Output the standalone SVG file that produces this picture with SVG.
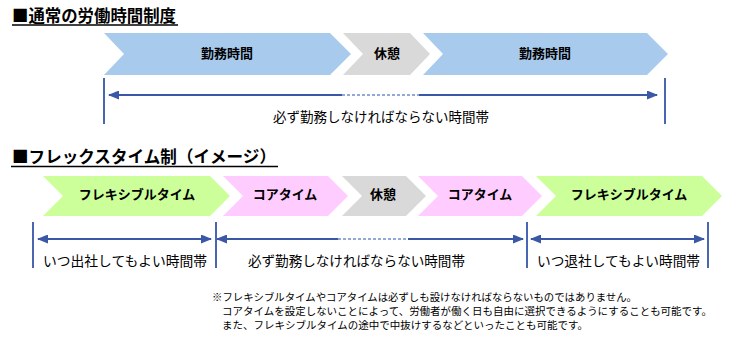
<svg xmlns="http://www.w3.org/2000/svg" width="740" height="345" viewBox="0 0 740 345">
<style>
text{font-family:"Noto Sans CJK JP","Noto Sans",sans-serif;fill:#000}
.title{font-size:16.5px;font-weight:bold}
.lab{font-size:13px;font-weight:bold;text-anchor:middle}
.desc{font-size:13.5px}
.note{font-size:10.5px}
.blue{fill:#a8cbed}
.gray{fill:#d9d9d9}
.green{fill:#ccff99}
.pink{fill:#ffccff}
.ul{stroke:#000;stroke-width:1.3}
.vl{stroke:#4a66b0;stroke-width:2}
.ar{stroke:#3a58a6;stroke-width:2;fill:none}
.da{stroke:#93a8d8;stroke-width:2;stroke-dasharray:3 2;fill:none}
</style>
<defs>
<marker id="ah" markerUnits="userSpaceOnUse" markerWidth="11" markerHeight="9" refX="10" refY="4.5" orient="auto-start-reverse" viewBox="0 0 11 9">
<path d="M0,0 L11,4.5 L0,9 z" fill="#3a58a6"/>
</marker>
</defs>
<rect width="740" height="345" fill="#fff"/>

<g id="title1">
<text class="title" x="12" y="22" textLength="164" lengthAdjust="spacingAndGlyphs">■通常の労働時間制度</text>
<line class="ul" x1="12" y1="25" x2="178" y2="25"/>
</g>

<g id="n-work1">
<polygon class="blue" points="104,33 330,33 351,54 330,75 104,75 124,54"/>
<text class="lab" x="227" y="58">勤務時間</text>
</g>
<g id="n-break1">
<polygon class="gray" points="343,33 410,33 430,54 410,75 343,75 363,54"/>
<text class="lab" x="387" y="58">休憩</text>
</g>
<g id="n-work2">
<polygon class="blue" points="423,33 647,33 668,54 647,75 423,75 443,54"/>
<text class="lab" x="545" y="58">勤務時間</text>
</g>

<g id="title2">
<text class="title" x="12" y="163" textLength="264" lengthAdjust="spacingAndGlyphs">■フレックスタイム制（イメージ）</text>
<line class="ul" x1="11" y1="166.5" x2="278" y2="166.5"/>
</g>

<g id="n-flex1">
<polygon class="green" points="43,176 210,176 230,196 210,216 43,216 63,196"/>
<text class="lab" x="137" y="199">フレキシブルタイム</text>
</g>
<g id="n-core1">
<polygon class="pink" points="223,176 328,176 348,196 328,216 223,216 243,196"/>
<text class="lab" x="285" y="199">コアタイム</text>
</g>
<g id="n-break2">
<polygon class="gray" points="342,176 406,176 426,196 406,216 342,216 362,196"/>
<text class="lab" x="383" y="199">休憩</text>
</g>
<g id="n-core2">
<polygon class="pink" points="418,176 522,176 542,196 522,216 418,216 438,196"/>
<text class="lab" x="480" y="199">コアタイム</text>
</g>
<g id="n-flex2">
<polygon class="green" points="536,176 702,176 722,196 702,216 536,216 556,196"/>
<text class="lab" x="629" y="199">フレキシブルタイム</text>
</g>

<g id="connectors">
<line class="vl" x1="104" y1="78" x2="104" y2="124"/>
<line class="vl" x1="665" y1="78" x2="665" y2="124"/>
<line class="ar" x1="342" y1="95" x2="109" y2="95" marker-end="url(#ah)"/>
<line class="da" x1="342" y1="95" x2="419" y2="95"/>
<line class="ar" x1="419" y1="95" x2="657" y2="95" marker-end="url(#ah)"/>

<line class="vl" x1="33" y1="222" x2="33" y2="268"/>
<line class="vl" x1="216" y1="222" x2="216" y2="268"/>
<line class="vl" x1="527" y1="222" x2="527" y2="268"/>
<line class="vl" x1="708" y1="222" x2="708" y2="268"/>
<line class="ar" x1="38" y1="239" x2="211" y2="239" marker-start="url(#ah)" marker-end="url(#ah)"/>
<line class="ar" x1="338" y1="239" x2="217" y2="239" marker-end="url(#ah)"/>
<line class="da" x1="338" y1="239" x2="408" y2="239"/>
<line class="ar" x1="408" y1="239" x2="523" y2="239" marker-end="url(#ah)"/>
<line class="ar" x1="531" y1="239" x2="704" y2="239" marker-start="url(#ah)" marker-end="url(#ah)"/>
</g>

<g id="labels">
<text class="desc" x="273" y="122" textLength="216" lengthAdjust="spacingAndGlyphs">必ず勤務しなければならない時間帯</text>
<text class="desc" x="43" y="266" textLength="164" lengthAdjust="spacingAndGlyphs">いつ出社してもよい時間帯</text>
<text class="desc" x="248" y="266" textLength="217" lengthAdjust="spacingAndGlyphs">必ず勤務しなければならない時間帯</text>
<text class="desc" x="537" y="266" textLength="163" lengthAdjust="spacingAndGlyphs">いつ退社してもよい時間帯</text>
</g>

<g id="note">
<text class="note" x="212" y="301" textLength="425" lengthAdjust="spacingAndGlyphs">※フレキシブルタイムやコアタイムは必ずしも設けなければならないものではありません。</text>
<text class="note" x="222" y="315" textLength="490" lengthAdjust="spacingAndGlyphs">コアタイムを設定しないことによって、労働者が働く日も自由に選択できるようにすることも可能です。</text>
<text class="note" x="222" y="329" textLength="366" lengthAdjust="spacingAndGlyphs">また、フレキシブルタイムの途中で中抜けするなどといったことも可能です。</text>
</g>
</svg>
